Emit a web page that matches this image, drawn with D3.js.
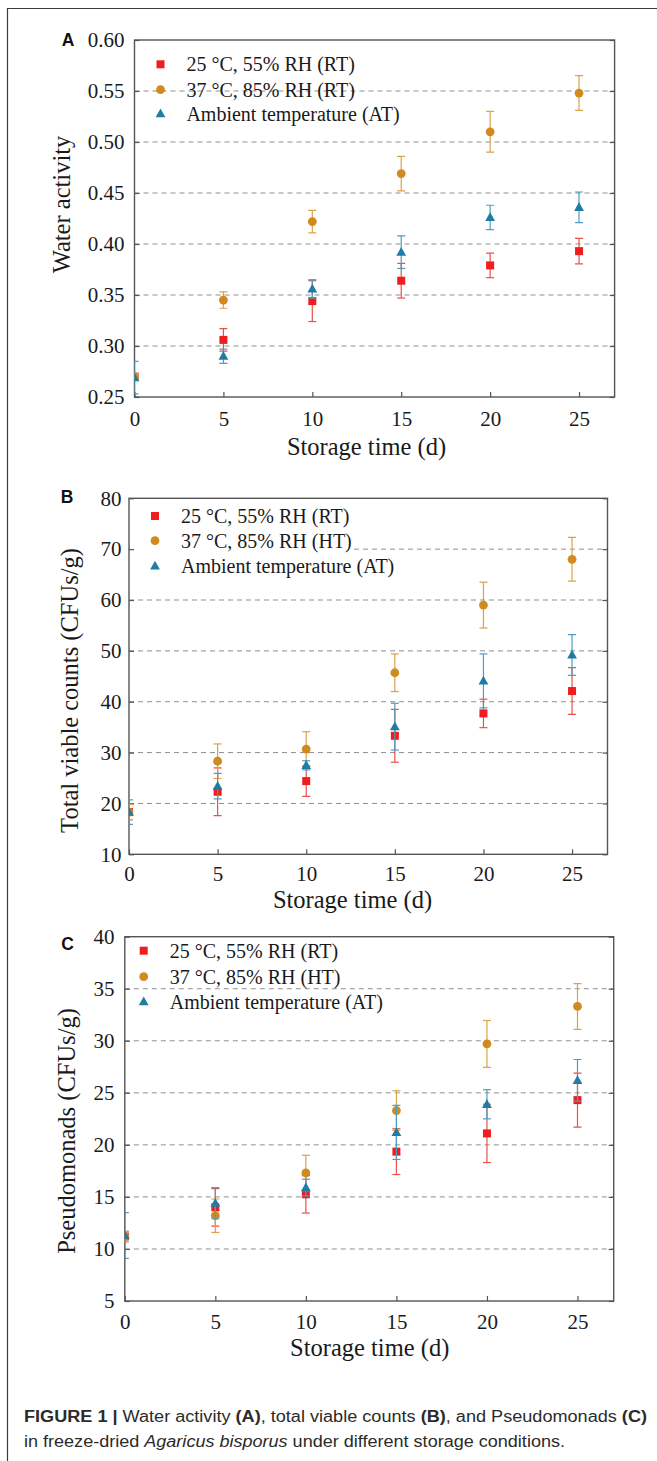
<!DOCTYPE html>
<html>
<head>
<meta charset="utf-8">
<script src="https://cdn.jsdelivr.net/npm/d3@7"></script>
<style>
  html, body { margin: 0; padding: 0; background: #fff; }
  svg { display: block; }
</style>
</head>
<body>
<svg id="chart" width="657" height="1461"></svg>
<script>
// ---------------- DATA ----------------
const days = [0, 5, 10, 15, 20, 25];
const xTicks = [0, 5, 10, 15, 20, 25];

const seriesNames = ["RT", "HT", "AT"];
const legendA = ["25 °C, 55% RH (RT)", "37 °C, 85% RH (RT)", "Ambient temperature (AT)"];
const legendBC = ["25 °C, 55% RH (RT)", "37 °C, 85% RH (HT)", "Ambient temperature (AT)"];

// Panel A: water activity
const waRT = [0.270, 0.306, 0.344, 0.364, 0.379, 0.393];
const waRTerr = [0.003, 0.011, 0.020, 0.017, 0.012, 0.0125];
const waHT = [0.270, 0.345, 0.422, 0.469, 0.510, 0.548];
const waHTerr = [0.003, 0.008, 0.011, 0.017, 0.020, 0.017];
const waAT = [0.269, 0.290, 0.356, 0.392, 0.426, 0.436];
const waATerr = [0.016, 0.007, 0.009, 0.016, 0.012, 0.015];
const yTicksA = [0.25, 0.30, 0.35, 0.40, 0.45, 0.50, 0.55, 0.60];

// Panel B: total viable counts
const tvcRT = [18.3, 22.3, 24.4, 33.3, 37.7, 42.1];
const tvcRTerr = [1.5, 4.7, 3.0, 5.2, 2.8, 4.6];
const tvcHT = [18.3, 28.3, 30.7, 45.7, 59.0, 68.0];
const tvcHTerr = [1.5, 3.4, 3.4, 3.7, 4.5, 4.3];
const tvcAT = [18.3, 23.4, 27.5, 35.1, 44.1, 49.2];
const tvcATerr = [2.4, 2.5, 0.9, 4.6, 5.3, 4.0];
const yTicksB = [10, 20, 30, 40, 50, 60, 70, 80];

// Panel C: Pseudomonads
const psRT = [11.2, 14.0, 15.25, 19.35, 21.1, 24.3];
const psRTerr = [0.5, 1.8, 1.8, 2.2, 2.8, 2.6];
const psHT = [11.2, 13.2, 17.3, 23.3, 29.7, 33.3];
const psHTerr = [0.5, 1.6, 1.7, 1.9, 2.25, 2.2];
const psAT = [11.3, 14.4, 15.9, 21.2, 23.9, 26.2];
const psATerr = [2.2, 1.5, 0.8, 2.6, 1.4, 2.0];
const yTicksC = [5, 10, 15, 20, 25, 30, 35, 40];

// ---------------- STYLE ----------------
const markerColor = { RT: "#ef1d1d", HT: "#d08a1e", AT: "#1f7ca4" };
const errColor = { RT: "#e9504a", HT: "#dba247", AT: "#4b9ec0" };
const serif = "'Liberation Serif', 'Times New Roman', serif";
const sans = "'Liberation Sans', Arial, sans-serif";

const svg = d3.select("#chart");

// outer figure frame
svg.append("path")
  .attr("d", "M7.5,1461 V8.5 H657")
  .attr("fill", "none").attr("stroke", "#3a3a3a").attr("stroke-width", 1.2);

const panels = [
  { id: "A", letter: "A", left: 134.5, right: 614.6, top: 40, bottom: 397,
    domain: [0.25, 0.60], ticks: yTicksA, fmt: d3.format(".2f"), tickPad: 10, xPad: 14,
    letterX: 68, letterY: 45.5, xTitleX: 366.5, xTitleY: 455,
    yTitle: "Water activity", yTitleX: 70, yTitleY: 204.5,
    legend: legendA, legX: 160.5, legTextX: 186.4, legY: [64.3, 89.7, 113.7], legBg: false,
    data: { RT: [waRT, waRTerr], HT: [waHT, waHTerr], AT: [waAT, waATerr] } },
  { id: "B", letter: "B", left: 129, right: 607.5, top: 498.3, bottom: 854.3,
    domain: [10, 80], ticks: yTicksB, fmt: d3.format("d"), tickPad: 7.5, xPad: 11.5,
    letterX: 67, letterY: 502.7, xTitleX: 352.5, xTitleY: 907.5,
    yTitle: "Total viable counts (CFUs/g)", yTitleX: 78, yTitleY: 690.5,
    legend: legendBC, legX: 155, legTextX: 181, legY: [516, 540.7, 566], legBg: true,
    data: { RT: [tvcRT, tvcRTerr], HT: [tvcHT, tvcHTerr], AT: [tvcAT, tvcATerr] } },
  { id: "C", letter: "C", left: 124.8, right: 613.7, top: 936.7, bottom: 1301,
    domain: [5, 40], ticks: yTicksC, fmt: d3.format("d"), tickPad: 10.4, xPad: 13,
    letterX: 67.6, letterY: 950, xTitleX: 369.7, xTitleY: 1356,
    yTitle: "Pseudomonads (CFUs/g)", yTitleX: 75, yTitleY: 1131,
    legend: legendBC, legX: 143.7, legTextX: 169.7, legY: [950.7, 976.7, 1001.7], legBg: false,
    data: { RT: [psRT, psRTerr], HT: [psHT, psHTerr], AT: [psAT, psATerr] } }
];

function marker(sel, name, cx, cy) {
  if (name === "RT") {
    sel.append("rect").attr("x", cx - 4).attr("y", cy - 4).attr("width", 8).attr("height", 8)
      .attr("fill", markerColor.RT);
  } else if (name === "HT") {
    sel.append("circle").attr("cx", cx).attr("cy", cy).attr("r", 4.4).attr("fill", markerColor.HT);
  } else {
    sel.append("path")
      .attr("d", `M${cx},${cy - 5.2} L${cx + 4.9},${cy + 3.6} L${cx - 4.9},${cy + 3.6} Z`)
      .attr("fill", markerColor.AT);
  }
}

panels.forEach(p => {
  const x = d3.scaleLinear().domain([0, 27]).range([p.left, p.right]);
  const y = d3.scaleLinear().domain(p.domain).range([p.bottom, p.top]);
  const g = svg.append("g");

  // gridlines
  g.append("g").selectAll("line")
    .data(p.ticks.filter(t => t > p.domain[0] + 1e-9 && t < p.domain[1] - 1e-9))
    .join("line")
    .attr("x1", p.left).attr("x2", p.right)
    .attr("y1", d => y(d)).attr("y2", d => y(d))
    .attr("stroke", "#8f8f8f").attr("stroke-width", 1).attr("stroke-dasharray", "5,4");

  // legend background (panel B has opaque legend)
  if (p.legBg) {
    g.append("rect").attr("x", p.left + 1).attr("y", p.top + 2)
      .attr("width", 224).attr("height", 78).attr("fill", "#fff");
  }

  // axes
  const axB = d3.axisBottom(x).tickValues(xTicks).tickSizeInner(-5).tickSizeOuter(0).tickPadding(p.xPad).tickFormat(d3.format("d"));
  const axL = d3.axisLeft(y).tickValues(p.ticks).tickSizeInner(-5).tickSizeOuter(0).tickPadding(p.tickPad).tickFormat(p.fmt);
  const axR = d3.axisRight(y).tickValues(p.ticks).tickSizeInner(-5).tickSizeOuter(0).tickFormat("");

  const styleAxis = sel => {
    sel.select(".domain").remove();
    sel.selectAll("line").attr("stroke", "#555").attr("stroke-width", 1.2);
    sel.selectAll("text").attr("font-family", serif).attr("font-size", 21).attr("fill", "#1a1a1a");
  };
  g.append("g").attr("transform", `translate(0,${p.bottom})`).call(axB).call(styleAxis);
  g.append("g").attr("transform", `translate(${p.left},0)`).call(axL).call(styleAxis);
  g.append("g").attr("transform", `translate(${p.right},0)`).call(axR).call(styleAxis);

  // plot frame
  g.append("rect").attr("x", p.left).attr("y", p.top)
    .attr("width", p.right - p.left).attr("height", p.bottom - p.top)
    .attr("fill", "none").attr("stroke", "#555").attr("stroke-width", 1.4);

  // clip for marks
  const clipId = "clip" + p.id;
  svg.append("clipPath").attr("id", clipId).append("rect")
    .attr("x", p.left).attr("y", p.top - 10).attr("width", p.right - p.left).attr("height", p.bottom - p.top + 10);
  const marks = g.append("g").attr("clip-path", `url(#${clipId})`);

  seriesNames.forEach(name => {
    const [vals, errs] = p.data[name];
    const pts = days.map((d, i) => ({ d, v: vals[i], e: errs[i] }));
    const eb = marks.append("g").attr("stroke", errColor[name]).attr("stroke-width", 1.2);
    pts.forEach(pt => {
      const cx = x(pt.d);
      eb.append("line").attr("x1", cx).attr("x2", cx).attr("y1", y(pt.v - pt.e)).attr("y2", y(pt.v + pt.e));
      eb.append("line").attr("x1", cx - 4).attr("x2", cx + 4).attr("y1", y(pt.v - pt.e)).attr("y2", y(pt.v - pt.e));
      eb.append("line").attr("x1", cx - 4).attr("x2", cx + 4).attr("y1", y(pt.v + pt.e)).attr("y2", y(pt.v + pt.e));
    });
    const mg = marks.append("g");
    pts.forEach(pt => marker(mg, name, x(pt.d), y(pt.v)));
  });

  // legend
  p.legend.forEach((label, i) => {
    marker(g, seriesNames[i], p.legX, p.legY[i]);
    g.append("text").attr("x", p.legTextX).attr("y", p.legY[i] + 6.8)
      .attr("font-family", serif).attr("font-size", 20).attr("fill", "#1a1a1a")
      .text(label);
  });

  // panel letter
  g.append("text").attr("x", p.letterX).attr("y", p.letterY)
    .attr("text-anchor", "middle").attr("font-family", sans).attr("font-weight", "bold")
    .attr("font-size", 17.5).attr("fill", "#111").text(p.letter);

  // x title
  g.append("text").attr("x", p.xTitleX).attr("y", p.xTitleY)
    .attr("text-anchor", "middle").attr("font-family", serif).attr("font-size", 24.5).attr("fill", "#1a1a1a")
    .text("Storage time (d)");

  // y title
  g.append("text").attr("transform", `translate(${p.yTitleX},${p.yTitleY}) rotate(-90)`)
    .attr("text-anchor", "middle").attr("font-family", serif).attr("font-size", 24.5).attr("fill", "#1a1a1a")
    .text(p.yTitle);
});

// caption
const cap1 = svg.append("text").attr("x", 24).attr("y", 1421.7)
  .attr("font-family", sans).attr("font-size", 16).attr("fill", "#2b2b2b")
  .attr("textLength", 623).attr("lengthAdjust", "spacingAndGlyphs");
cap1.append("tspan").attr("font-weight", "bold").text("FIGURE 1 | ");
cap1.append("tspan").text("Water activity ");
cap1.append("tspan").attr("font-weight", "bold").text("(A)");
cap1.append("tspan").text(", total viable counts ");
cap1.append("tspan").attr("font-weight", "bold").text("(B)");
cap1.append("tspan").text(", and Pseudomonads ");
cap1.append("tspan").attr("font-weight", "bold").text("(C)");

const cap2 = svg.append("text").attr("x", 24).attr("y", 1447.3)
  .attr("font-family", sans).attr("font-size", 16).attr("fill", "#2b2b2b")
  .attr("textLength", 541).attr("lengthAdjust", "spacingAndGlyphs");
cap2.append("tspan").text("in freeze-dried ");
cap2.append("tspan").attr("font-style", "italic").text("Agaricus bisporus");
cap2.append("tspan").text(" under different storage conditions.");
</script>
</body>
</html>
